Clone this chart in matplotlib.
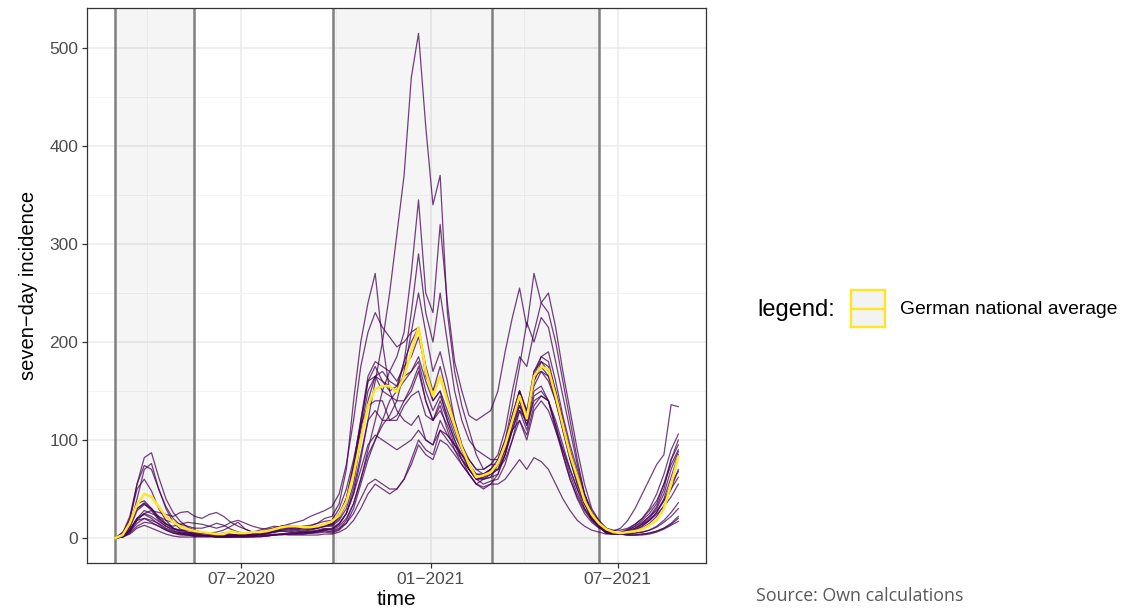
import pandas as pd
import matplotlib
matplotlib.use("Agg")
import matplotlib.pyplot as plt

# weekly values, 2020-03-01 .. 2021-08-29 (79 points)
dates = pd.date_range("2020-03-01", periods=79, freq="7D")

national_average = [
    0, 3, 15, 34, 45, 42, 32, 22, 16, 12, 9, 7,
    6, 5, 4, 4, 7, 5, 5, 6, 6, 7, 9, 11, 12, 12, 11, 11, 12, 14,
    17, 23, 37, 65, 100, 135, 152, 155, 155, 149, 165, 190, 215, 170, 145, 165, 140, 115, 92, 75, 62, 64, 67,
    76, 95, 120, 145, 122, 165, 175, 172, 145, 115, 85, 62, 38, 24, 15,
    9, 6, 5, 6, 7, 9, 13, 18, 30, 55, 83,
]

sachsen = [
    0, 1, 8, 20, 24, 20, 14, 9, 6, 4, 3, 2,
    2, 2, 1, 1, 1, 1, 1, 1, 2, 2, 3, 4, 5, 5, 5, 6, 7, 8,
    10, 15, 25, 45, 80, 120, 160, 200, 250, 310, 370, 470, 515, 420, 340, 370, 230, 170, 135, 110, 85, 70, 75,
    85, 110, 150, 185, 175, 210, 240, 250, 215, 170, 130, 90, 55, 30, 18,
    10, 6, 4, 3, 3, 4, 5, 7, 10, 15, 22,
]
thueringen = [
    0, 1, 6, 18, 25, 28, 26, 24, 22, 26, 27, 22,
    20, 24, 26, 22, 16, 12, 9, 6, 4, 3, 3, 4, 4, 5, 6, 7, 8, 10,
    8, 12, 20, 35, 60, 90, 120, 150, 170, 185, 210, 270, 345, 250, 230, 320, 240, 180, 150, 125, 120, 125, 130,
    150, 190, 225, 255, 215, 270, 240, 230, 200, 160, 120, 80, 45, 25, 15,
    10, 6, 4, 3, 3, 4, 5, 7, 10, 14, 20,
]
sachsen_anhalt = [
    0, 1, 5, 12, 16, 15, 12, 8, 5, 4, 3, 2,
    2, 2, 1, 1, 1, 2, 2, 2, 2, 2, 3, 3, 4, 4, 4, 5, 5, 6,
    5, 8, 15, 30, 55, 80, 100, 120, 140, 150, 180, 230, 290, 230, 200, 250, 200, 150, 120, 100, 90, 85, 80,
    80, 100, 135, 175, 220, 200, 225, 215, 180, 145, 110, 75, 45, 25, 14,
    9, 6, 4, 3, 3, 3, 4, 6, 9, 13, 17,
]
brandenburg = [
    0, 1, 6, 15, 20, 18, 15, 10, 7, 5, 4, 3,
    3, 2, 2, 1, 1, 1, 1, 2, 2, 3, 4, 4, 4, 4, 4, 5, 6, 8,
    6, 9, 18, 35, 60, 85, 100, 115, 125, 140, 170, 210, 250, 210, 170, 190, 160, 120, 95, 80, 70, 65, 70,
    75, 95, 120, 150, 130, 155, 170, 160, 140, 115, 85, 60, 35, 20, 12,
    7, 5, 4, 4, 5, 6, 8, 11, 16, 22, 30,
]
bayern = [
    0, 4, 18, 55, 82, 87, 62, 40, 26, 17, 11, 8,
    6, 5, 4, 3, 3, 3, 3, 4, 5, 6, 8, 10, 11, 10, 9, 9, 10, 12,
    15, 25, 40, 75, 120, 165, 180, 175, 170, 160, 175, 185, 205, 175, 150, 165, 140, 115, 90, 70, 60, 60, 62,
    75, 95, 125, 150, 125, 170, 185, 180, 150, 120, 90, 65, 40, 25, 15,
    7, 5, 4, 5, 7, 10, 15, 22, 33, 50, 70,
]
baden_wuerttemberg = [
    0, 5, 22, 55, 74, 70, 50, 32, 20, 13, 9, 7,
    5, 4, 3, 3, 2, 3, 3, 3, 4, 5, 7, 9, 10, 9, 8, 9, 10, 12,
    13, 20, 35, 70, 110, 150, 165, 160, 155, 150, 160, 170, 185, 160, 140, 150, 120, 100, 80, 65, 55, 52, 55,
    65, 85, 115, 140, 120, 165, 185, 190, 160, 125, 95, 70, 45, 28, 17,
    7, 5, 4, 5, 8, 12, 18, 26, 40, 62, 85,
]
hessen = [
    0, 2, 10, 28, 34, 30, 22, 15, 10, 7, 5, 5,
    5, 4, 3, 3, 3, 3, 3, 4, 5, 7, 10, 12, 13, 12, 11, 10, 11, 13,
    14, 22, 40, 70, 115, 160, 175, 160, 150, 155, 180, 200, 215, 175, 140, 150, 130, 110, 90, 75, 65, 65, 70,
    80, 100, 125, 150, 130, 170, 180, 175, 150, 120, 85, 60, 38, 22, 14,
    6, 5, 5, 7, 10, 15, 22, 32, 50, 80, 100,
]
berlin = [
    0, 2, 12, 35, 38, 30, 20, 14, 12, 14, 16, 15,
    14, 12, 10, 12, 16, 18, 15, 12, 10, 9, 10, 12, 14, 16, 18, 22, 25, 28,
    32, 45, 75, 120, 175, 210, 230, 215, 205, 195, 200, 210, 215, 165, 150, 175, 145, 120, 95, 75, 62, 60, 62,
    65, 85, 110, 135, 115, 140, 145, 140, 120, 95, 70, 50, 35, 24, 18,
    10, 8, 8, 10, 14, 20, 28, 38, 55, 75, 90,
]
bremen = [
    0, 1, 8, 20, 28, 25, 22, 18, 16, 14, 12, 10,
    10, 12, 15, 13, 9, 6, 5, 6, 8, 10, 12, 11, 10, 9, 10, 12, 15, 20,
    22, 35, 70, 140, 200, 240, 270, 200, 150, 130, 120, 115, 125, 100, 95, 110, 100, 90, 80, 70, 60, 62, 65,
    70, 85, 110, 120, 105, 135, 145, 140, 110, 90, 70, 50, 30, 20, 12,
    5, 4, 5, 8, 12, 18, 25, 35, 55, 80, 95,
]
hamburg = [
    0, 3, 20, 50, 60, 48, 30, 18, 10, 6, 5, 4,
    4, 4, 3, 3, 3, 3, 3, 4, 6, 8, 10, 12, 12, 11, 12, 13, 15, 17,
    18, 30, 50, 80, 115, 135, 140, 140, 120, 120, 135, 145, 150, 125, 120, 130, 115, 95, 80, 70, 62, 65, 70,
    75, 95, 120, 140, 115, 150, 155, 140, 115, 85, 60, 40, 25, 16, 10,
    8, 7, 10, 18, 30, 45, 60, 75, 85, 136, 134,
]
nordrhein_westfalen = [
    0, 6, 15, 30, 36, 30, 20, 14, 10, 8, 8, 6,
    5, 5, 6, 8, 12, 16, 9, 6, 6, 7, 10, 12, 12, 11, 10, 10, 11, 13,
    14, 22, 40, 75, 120, 160, 165, 150, 145, 140, 140, 150, 170, 140, 120, 140, 120, 100, 85, 70, 60, 62, 68,
    75, 95, 125, 150, 125, 165, 170, 165, 145, 115, 85, 60, 38, 24, 15,
    6, 5, 6, 9, 14, 20, 30, 45, 65, 90, 106,
]
rheinland_pfalz = [
    0, 2, 12, 30, 35, 28, 18, 12, 8, 5, 4, 3,
    3, 2, 2, 2, 2, 2, 2, 3, 4, 5, 7, 8, 8, 7, 6, 6, 7, 9,
    9, 14, 25, 50, 85, 120, 130, 120, 120, 125, 140, 155, 175, 140, 120, 135, 110, 90, 75, 65, 55, 60, 65,
    70, 90, 110, 130, 110, 145, 150, 140, 115, 90, 65, 45, 30, 18, 11,
    5, 4, 4, 5, 8, 12, 18, 26, 38, 55, 68,
]
saarland = [
    0, 2, 12, 40, 70, 76, 50, 30, 16, 9, 6, 4,
    3, 2, 2, 2, 2, 2, 2, 2, 3, 4, 6, 8, 9, 8, 7, 8, 10, 12,
    12, 18, 30, 55, 100, 140, 165, 170, 160, 155, 165, 170, 180, 150, 130, 145, 125, 105, 90, 80, 70, 70, 75,
    75, 90, 115, 135, 120, 160, 175, 165, 140, 110, 80, 55, 35, 20, 12,
    5, 4, 4, 6, 9, 14, 20, 30, 45, 70, 88,
]
niedersachsen = [
    0, 1, 8, 20, 25, 22, 17, 12, 9, 8, 6, 5,
    5, 4, 4, 5, 4, 3, 3, 3, 4, 5, 6, 7, 7, 6, 6, 6, 7, 9,
    9, 14, 25, 45, 70, 95, 105, 100, 95, 90, 95, 100, 110, 100, 95, 120, 105, 95, 85, 75, 65, 65, 70,
    70, 80, 100, 120, 100, 130, 140, 130, 110, 85, 60, 42, 28, 18, 11,
    6, 5, 5, 7, 10, 14, 18, 24, 32, 42, 55,
]
schleswig_holstein = [
    0, 1, 8, 18, 20, 16, 12, 8, 5, 3, 3, 2,
    2, 2, 1, 1, 2, 2, 2, 3, 4, 5, 6, 7, 6, 5, 5, 5, 6, 7,
    7, 10, 15, 25, 40, 55, 60, 55, 50, 50, 60, 75, 95, 85, 80, 100, 95, 85, 75, 65, 55, 50, 55,
    55, 60, 70, 80, 70, 82, 78, 70, 55, 40, 28, 18, 12, 8, 6,
    4, 4, 5, 8, 12, 16, 22, 28, 38, 50, 62,
]
mecklenburg_vorpommern = [
    0, 1, 4, 10, 13, 10, 7, 4, 2, 1, 1, 1,
    1, 1, 1, 1, 1, 1, 1, 1, 1, 2, 3, 4, 3, 3, 3, 3, 3, 4,
    4, 6, 10, 18, 30, 45, 55, 50, 45, 50, 60, 80, 100, 90, 85, 110, 105, 95, 85, 75, 60, 55, 58,
    60, 75, 100, 130, 120, 160, 180, 170, 140, 110, 80, 55, 35, 20, 12,
    7, 5, 4, 4, 5, 6, 8, 12, 18, 26, 36,
]

states = [sachsen, thueringen, sachsen_anhalt, brandenburg, bayern, baden_wuerttemberg,
          hessen, berlin, bremen, hamburg, nordrhein_westfalen, rheinland_pfalz,
          saarland, niedersachsen, schleswig_holstein, mecklenburg_vorpommern]

phase_breaks = pd.to_datetime(["2020-03-01", "2020-05-16", "2020-09-28", "2021-03-01", "2021-06-13"])
shaded_periods = [("2020-03-01", "2020-05-16"), ("2020-09-28", "2021-03-01"), ("2021-03-01", "2021-06-13")]
x_ticks = pd.to_datetime(["2020-07-01", "2021-01-01", "2021-07-01"])
x_minor = pd.to_datetime(["2020-04-01", "2020-10-01", "2021-04-01"])
tick_labels = ["07\u22122020", "01\u22122021", "07\u22122021"]

plt.rcParams["font.family"] = ["Liberation Sans", "DejaVu Sans"]

fig = plt.figure(figsize=(11.48, 6.10), dpi=100)
ax = fig.add_axes([0.076, 0.0767, 0.5394, 0.910])

# grid like theme_bw
ax.set_axisbelow(True)
ax.set_yticks(range(0, 501, 100))
ax.set_yticks(range(50, 501, 100), minor=True)
ax.set_xticks(x_ticks)
ax.set_xticks(x_minor, minor=True)
ax.set_xticklabels(tick_labels)
ax.grid(which="major", color="#ebebeb", lw=1.1)
ax.grid(which="minor", color="#f3f3f3", lw=0.6)

for start, end in shaded_periods:
    ax.axvspan(pd.Timestamp(start), pd.Timestamp(end), color="black", alpha=0.04, lw=0, zorder=1)
for d in phase_breaks:
    ax.axvline(d, color="#7f7f7f", lw=1.8, zorder=2)

for values in states:
    ax.plot(dates, values, color="#440154", alpha=0.75, lw=0.9, zorder=3)
ax.plot(dates, national_average, color="#FDE725", lw=1.8, zorder=4)

pad = (dates[-1] - dates[0]) * 0.05
ax.set_xlim(dates[0] - pad, dates[-1] + pad)
ax.set_ylim(-25.75, 540.75)

for s in ax.spines.values():
    s.set_color("#333333")
    s.set_linewidth(0.9)
ax.tick_params(which="major", length=3.5, width=0.9, color="#333333",
               labelcolor="#4d4d4d", labelsize=12.5, pad=3)
ax.tick_params(which="minor", length=0)

ax.set_ylabel("seven\u2212day incidence", fontsize=14.5, labelpad=8)
ax.set_xlabel("time", fontsize=15, labelpad=2)

# legend drawn by hand to mimic ggplot's side legend
fig.text(757 / 1148, 1 - 310 / 610, "legend:", fontsize=17, va="center", ha="left")
key = fig.add_axes([851 / 1148, 1 - 327 / 610, 34 / 1148, 37 / 610])
key.set_facecolor("#f3f3f3")
key.axhline(0.5, color="#FDE725", lw=1.7)
key.set_xticks([])
key.set_yticks([])
for s in key.spines.values():
    s.set_color("#FDE725")
    s.set_linewidth(1.7)
fig.text(900 / 1148, 1 - 310 / 610, "German national average", fontsize=13.9, va="center", ha="left")

fig.text(756 / 1148, 1 - 596 / 610, "Source: Own calculations", fontsize=12.8,
         family=["Open Sans", "DejaVu Sans"], color="#595959", va="center", ha="left")

fig.savefig("out.png", dpi=100)
